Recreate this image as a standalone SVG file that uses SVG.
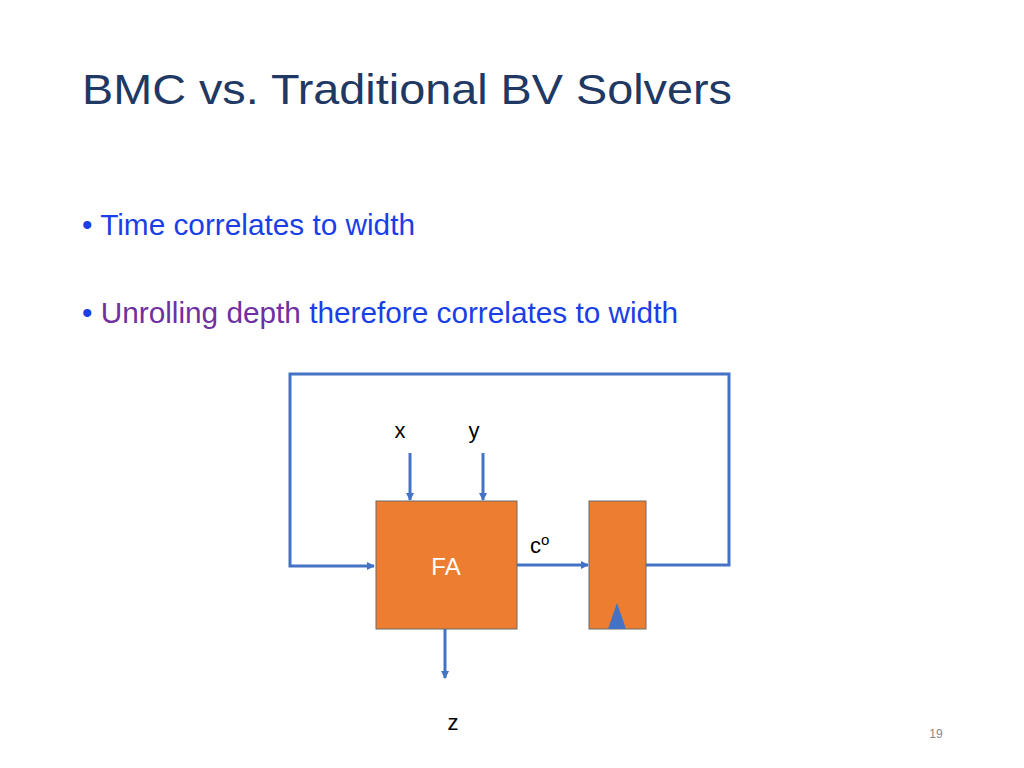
<svg xmlns="http://www.w3.org/2000/svg" width="1024" height="768" viewBox="0 0 1024 768">
<style>
.t{font-family:"Liberation Sans",Arial,sans-serif}
.w{stroke:#4472C4;stroke-width:3;fill:none}
.b{fill:#ED7D31;stroke:#6b6b6b;stroke-width:1}
</style>
<defs><marker id="a" markerWidth="8" markerHeight="8" refX="7" refY="4" orient="auto" markerUnits="userSpaceOnUse" viewBox="0 0 8 8"><path d="M0,0 L8,4 L0,8 Z" fill="#4472C4"/></marker></defs>
<rect width="1024" height="768" fill="#fff"/>
<text class="t" x="82" y="104" font-size="43" fill="#1F3864" textLength="650" lengthAdjust="spacingAndGlyphs">BMC vs. Traditional BV Solvers</text>
<text class="t" x="82" y="235" font-size="29" fill="#1a3fe6" textLength="333" lengthAdjust="spacingAndGlyphs">• Time correlates to width</text>
<text class="t" x="82" y="323" font-size="29" textLength="596" lengthAdjust="spacingAndGlyphs"><tspan fill="#1a3fe6">• </tspan><tspan fill="#7030A0">Unrolling depth</tspan><tspan fill="#1a3fe6"> therefore correlates to width</tspan></text>
<g id="connectors">
<path class="w" d="M646,565 H729 V374 H290 V566 H374" marker-end="url(#a)"/>
<path class="w" d="M410,453 V500" marker-end="url(#a)"/>
<path class="w" d="M483,453 V500" marker-end="url(#a)"/>
<path class="w" d="M517,565 H588" marker-end="url(#a)"/>
<path class="w" d="M445,629 V678" marker-end="url(#a)"/>
</g>
<g id="fa"><rect class="b" x="376" y="501" width="141" height="128"/><text class="t" x="446" y="575" font-size="24" fill="#fff" text-anchor="middle">FA</text></g>
<g id="reg"><rect class="b" x="589" y="501" width="57" height="128"/><path d="M608,629 L617,603 L626,629 Z" fill="#4472C4"/></g>
<text class="t" x="400" y="438" font-size="22" text-anchor="middle">x</text>
<text class="t" x="474" y="438" font-size="22" text-anchor="middle">y</text>
<text class="t" x="530" y="553" font-size="22">c<tspan font-size="15" dy="-8">o</tspan></text>
<text class="t" x="453" y="730" font-size="22" text-anchor="middle">z</text>
<text class="t" x="936" y="738" font-size="12" fill="#888" text-anchor="middle">19</text>
</svg>
